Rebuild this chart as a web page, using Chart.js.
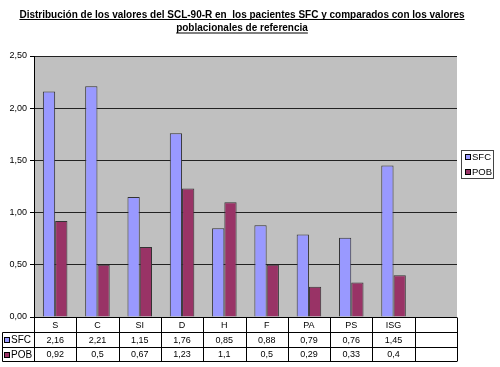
<!DOCTYPE html>
<html>
<head>
<meta charset="utf-8">
<script src="https://cdn.jsdelivr.net/npm/chart.js@4"></script>
<style>
html,body{margin:0;padding:0;background:#fff;}
canvas{display:block;}
</style>
</head>
<body>
<canvas id="c" width="500" height="367"></canvas>
<script>
const titleLines = ['Distribución de los valores del SCL-90-R en  los pacientes SFC y comparados con los valores', 'poblacionales de referencia'];
const categories = ['S', 'C', 'SI', 'D', 'H', 'F', 'PA', 'PS', 'ISG', ''];
const sfcValues = [2.16, 2.21, 1.15, 1.76, 0.85, 0.88, 0.79, 0.76, 1.45, null];
const pobValues = [0.92, 0.5, 0.67, 1.23, 1.1, 0.5, 0.29, 0.33, 0.4, null];
const seriesNames = ['SFC', 'POB'];
const seriesColors = ['#9999FF', '#993366'];
const yMin = 0, yMax = 2.5, yStep = 0.5;

const fmt = v => (v === null || v === undefined) ? '' : String(v).replace('.', ',');
const FONT = 'Arial, "Liberation Sans", sans-serif';

const decor = {
  id: 'decor',
  beforeDraw(chart) {
    const ctx = chart.ctx, a = chart.chartArea;
    ctx.save();
    ctx.fillStyle = '#fff';
    ctx.fillRect(0, 0, chart.width, chart.height);
    ctx.fillStyle = '#C0C0C0';
    ctx.fillRect(a.left, a.top, a.right - a.left, a.bottom - a.top);
    ctx.restore();
  },
  afterDraw(chart) {
    const ctx = chart.ctx, a = chart.chartArea, xs = chart.scales.x;
    ctx.save();
    // Title
    ctx.fillStyle = '#000';
    ctx.strokeStyle = '#000';
    ctx.font = 'bold 10px ' + FONT;
    ctx.textAlign = 'center';
    ctx.textBaseline = 'middle';
    const cx = 242;
    const ty = [15, 28.5];
    titleLines.forEach((t, i) => {
      ctx.fillText(t, cx, ty[i]);
      const w = ctx.measureText(t).width;
      ctx.lineWidth = 1;
      ctx.beginPath();
      ctx.moveTo(cx - w / 2, ty[i] + 4.5);
      ctx.lineTo(cx + w / 2, ty[i] + 4.5);
      ctx.stroke();
    });

    // Data table
    const n = categories.length;
    const cw = (a.right - a.left) / n;
    const r0 = Math.round(a.bottom) + 0.5, r1 = r0 + 15, r2 = r1 + 15, r3 = r2 + 14;
    const labelLeft = 2.5;
    ctx.strokeStyle = '#000';
    ctx.lineWidth = 1;
    ctx.beginPath();
    ctx.moveTo(a.left, r0); ctx.lineTo(a.right, r0);
    [r1, r2, r3].forEach(y => { ctx.moveTo(labelLeft, y); ctx.lineTo(a.right, y); });
    for (let k = 0; k <= n; k++) {
      const x = Math.round(a.left + k * cw) + 0.5;
      ctx.moveTo(x, r0); ctx.lineTo(x, r3);
    }
    ctx.moveTo(labelLeft, r1); ctx.lineTo(labelLeft, r3);
    ctx.stroke();

    ctx.font = '9px ' + FONT;
    ctx.textAlign = 'center';
    ctx.textBaseline = 'middle';
    ctx.fillStyle = '#000';
    const rows = [sfcValues, pobValues];
    for (let i = 0; i < n; i++) {
      const x = xs.getPixelForValue(i);
      ctx.fillText(categories[i], x, (r0 + r1) / 2 + 0.5);
      ctx.fillText(fmt(rows[0][i]), x, (r1 + r2) / 2 + 0.5);
      ctx.fillText(fmt(rows[1][i]), x, (r2 + r3) / 2 + 0.5);
    }
    // row labels with keys
    const rowMid = [(r1 + r2) / 2, (r2 + r3) / 2];
    ctx.font = '10px ' + FONT;
    ctx.textAlign = 'left';
    seriesNames.forEach((s, i) => {
      ctx.fillStyle = seriesColors[i];
      ctx.fillRect(4, Math.round(rowMid[i]) - 3, 6, 6);
      ctx.strokeStyle = '#000';
      ctx.strokeRect(4.5, Math.round(rowMid[i]) - 2.5, 5, 5);
      ctx.fillStyle = '#000';
      ctx.fillText(s, 11, rowMid[i] + 0.5);
    });

    // Legend box
    const lx = 461.5, ly = 150.5, lw = 32, lh = 28;
    ctx.fillStyle = '#fff';
    ctx.fillRect(lx, ly, lw, lh);
    ctx.strokeStyle = '#444';
    ctx.strokeRect(lx, ly, lw, lh);
    const ly0 = [157, 171.5];
    seriesNames.forEach((s, i) => {
      ctx.fillStyle = seriesColors[i];
      ctx.fillRect(465, Math.round(ly0[i]) - 3, 6, 6);
      ctx.strokeStyle = '#000';
      ctx.strokeRect(465.5, Math.round(ly0[i]) - 2.5, 5, 5);
      ctx.fillStyle = '#000';
      ctx.font = '9.5px ' + FONT;
      ctx.textAlign = 'left';
      ctx.fillText(s, 472, ly0[i] + 0.5);
    });
    ctx.restore();
  }
};

new Chart(document.getElementById('c'), {
  type: 'bar',
  data: {
    labels: categories,
    datasets: [
      { label: seriesNames[0], data: sfcValues, backgroundColor: seriesColors[0], borderColor: '#333', borderWidth: 1 },
      { label: seriesNames[1], data: pobValues, backgroundColor: seriesColors[1], borderColor: '#333', borderWidth: 1 }
    ]
  },
  options: {
    responsive: false,
    animation: false,
    devicePixelRatio: 1,
    datasets: { bar: { categoryPercentage: 0.58, barPercentage: 1.0 } },
    layout: { padding: { top: 56, left: 0, right: 43, bottom: 50 } },
    plugins: { legend: { display: false }, title: { display: false }, tooltip: { enabled: false } },
    scales: {
      x: { display: false, offset: true },
      y: {
        min: yMin, max: yMax,
        afterFit(s) { s.width = 34; },
        ticks: { stepSize: yStep, color: '#000', font: { size: 9, family: FONT }, padding: 3, callback: v => v.toFixed(2).replace('.', ',') },
        grid: { color: '#222', tickColor: '#000', tickLength: 4, lineWidth: 1 },
        border: { color: '#000' }
      }
    }
  },
  plugins: [decor]
});
</script>
</body>
</html>
